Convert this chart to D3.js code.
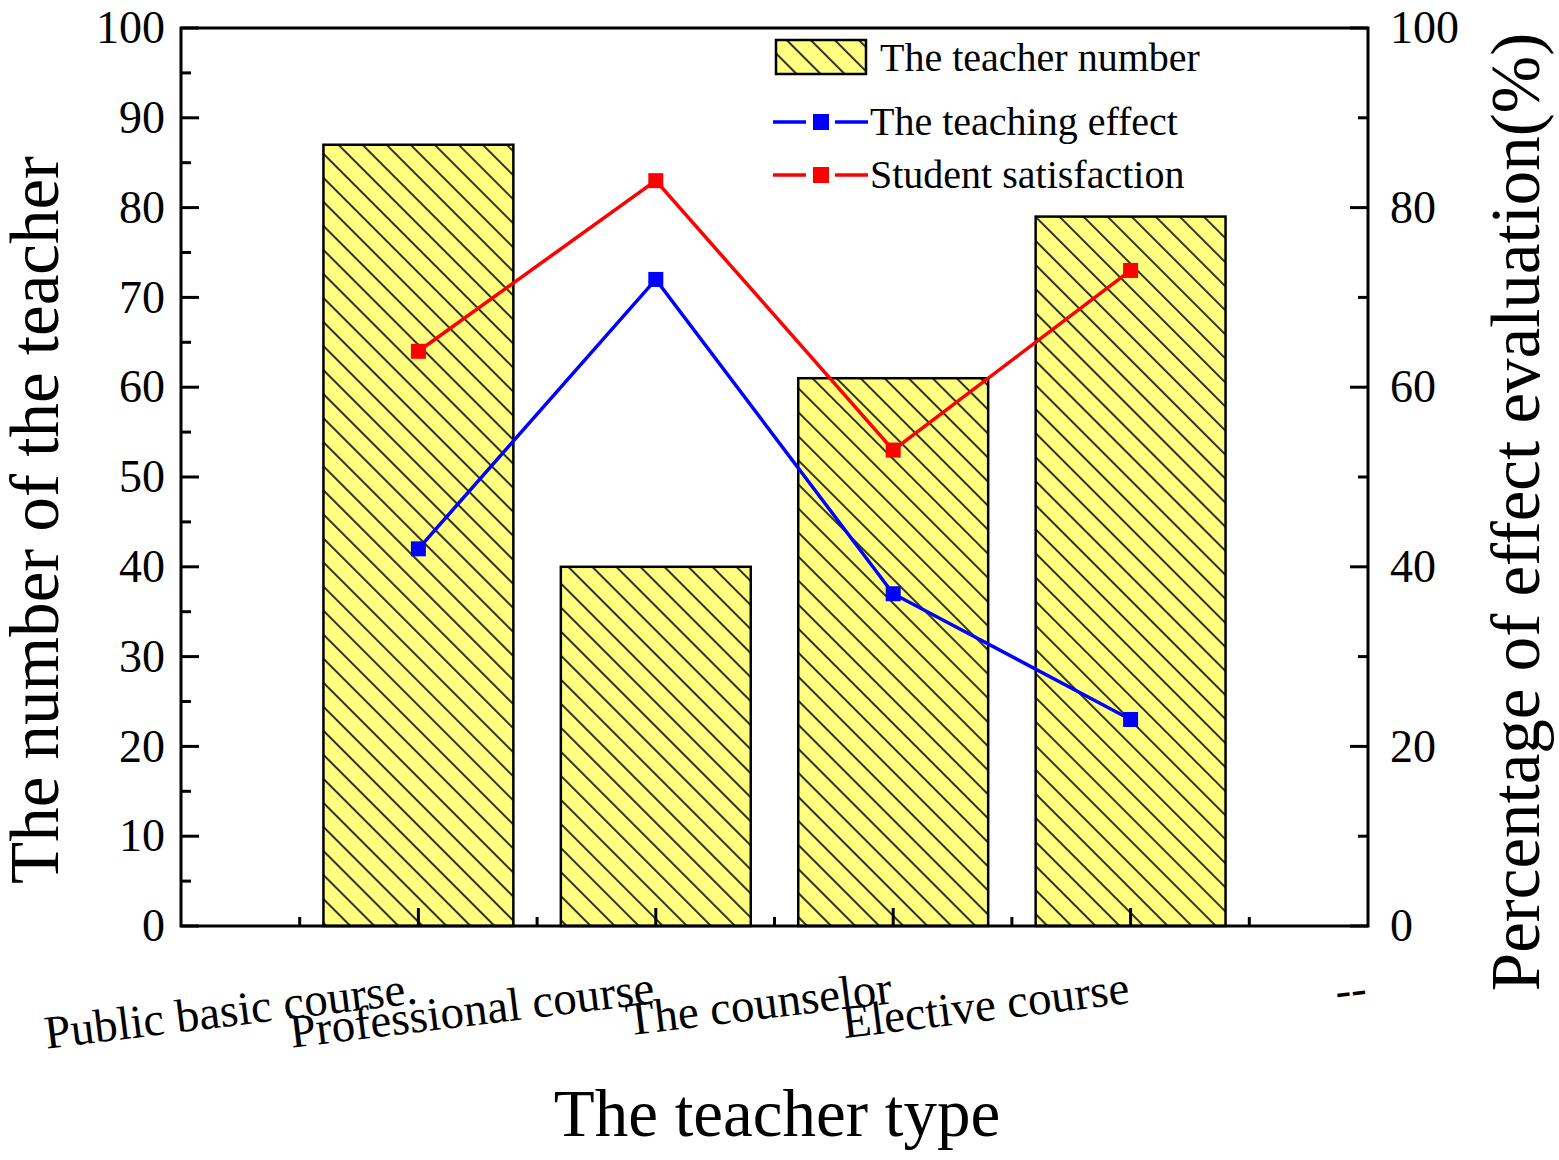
<!DOCTYPE html>
<html>
<head>
<meta charset="utf-8">
<script src="https://cdnjs.cloudflare.com/ajax/libs/d3/7.8.5/d3.min.js"></script>
<style>
  body { margin: 0; background: #fff; }
  text { font-family: "Liberation Serif", "Times New Roman", serif; fill: #000; }
</style>
</head>
<body>
<svg id="chart" width="1559" height="1160"></svg>
<script>
// data
var categories = ["Public basic course.", "Professional course", "The counselor", "Elective course"];
var teacherNumber = [87, 40, 61, 79];
var teachingEffect = [42, 72, 37, 23];
var studentSatisfaction = [64, 83, 53, 73];
var leftTicks = [0, 10, 20, 30, 40, 50, 60, 70, 80, 90, 100];
var rightTicks = [0, 20, 40, 60, 80, 100];

var svg = d3.select("#chart");
var plotL = 181, plotR = 1368, plotT = 28, plotB = 926;

var x = d3.scaleLinear().domain([0, 5]).range([plotL, plotR]);
var yL = d3.scaleLinear().domain([0, 100]).range([plotB, plotT]);
var yR = d3.scaleLinear().domain([0, 100]).range([plotB, plotT]);

// hatch pattern
var defs = svg.append("defs");
var pat = defs.append("pattern")
    .attr("id", "hatch")
    .attr("patternUnits", "userSpaceOnUse")
    .attr("width", 17).attr("height", 17)
    .attr("patternTransform", "rotate(-45)");
pat.append("rect").attr("width", 17).attr("height", 17).attr("fill", "#ffff80");
pat.append("line").attr("x1", 1).attr("y1", 0).attr("x2", 1).attr("y2", 17)
    .attr("stroke", "#000").attr("stroke-width", 1.6);

// bars
var barW = (x(1) - x(0)) * 0.8;
svg.append("g").selectAll("rect")
    .data(teacherNumber)
    .enter().append("rect")
    .attr("x", function(d, i) { return x(i + 1) - barW / 2; })
    .attr("y", function(d) { return yL(d); })
    .attr("width", barW)
    .attr("height", function(d) { return plotB - yL(d); })
    .attr("fill", "url(#hatch)")
    .attr("stroke", "#000")
    .attr("stroke-width", 2.5);

var ax = svg.append("g");
// left ticks, inward
ax.selectAll(null).data(d3.range(5, 100, 10).concat(leftTicks)).enter().append("line")
    .attr("x1", plotL).attr("x2", function(d) { return plotL + (d % 10 === 0 ? 18 : 10); })
    .attr("y1", function(d) { return yL(d); }).attr("y2", function(d) { return yL(d); })
    .attr("stroke", "#000").attr("stroke-width", 3);
// right ticks
ax.selectAll(null).data(d3.range(10, 100, 20).concat(rightTicks)).enter().append("line")
    .attr("x1", plotR).attr("x2", function(d) { return plotR - (d % 20 === 0 ? 18 : 10); })
    .attr("y1", function(d) { return yR(d); }).attr("y2", function(d) { return yR(d); })
    .attr("stroke", "#000").attr("stroke-width", 3);
// bottom ticks
ax.selectAll(null).data([0.5, 1.5, 2.5, 3.5, 4.5, 1, 2, 3, 4]).enter().append("line")
    .attr("x1", function(d) { return x(d); }).attr("x2", function(d) { return x(d); })
    .attr("y1", plotB).attr("y2", function(d) { return plotB - (d % 1 === 0 ? 18 : 9); })
    .attr("stroke", "#000").attr("stroke-width", 3);
// frame
ax.append("rect").attr("x", plotL).attr("y", plotT)
    .attr("width", plotR - plotL).attr("height", plotB - plotT)
    .attr("fill", "none").attr("stroke", "#000").attr("stroke-width", 3);

// tick labels
ax.selectAll(null).data(leftTicks).enter().append("text")
    .attr("x", plotL - 16).attr("y", function(d) { return yL(d); })
    .attr("dy", "0.33em").attr("text-anchor", "end")
    .style("font-size", "46px").text(function(d) { return d; });
ax.selectAll(null).data(rightTicks).enter().append("text")
    .attr("x", plotR + 22).attr("y", function(d) { return yR(d); })
    .attr("dy", "0.33em").attr("text-anchor", "start")
    .style("font-size", "46px").text(function(d) { return d; });
ax.selectAll(null).data(categories.concat(["--"])).enter().append("text")
    .attr("text-anchor", "end")
    .attr("transform", function(d, i) {
        return "translate(" + x(i + 1) + "," + 1003 + ") rotate(-7)";
    })
    .style("font-size", "47px").text(function(d) { return d; });

// axis titles
svg.append("text").attr("transform", "translate(58," + 520 + ") rotate(-90)")
    .attr("text-anchor", "middle").style("font-size", "69px")
    .text("The number of the teacher");
svg.append("text").attr("transform", "translate(1539," + 512 + ") rotate(-90)")
    .attr("text-anchor", "middle").style("font-size", "69px")
    .text("Percentage of effect evaluation(%)");
svg.append("text").attr("x", 777).attr("y", 1136)
    .attr("text-anchor", "middle").style("font-size", "67px")
    .text("The teacher type");

// lines
var series = [
    { name: "The teaching effect", values: teachingEffect, color: "#0000ff" },
    { name: "Student satisfaction", values: studentSatisfaction, color: "#ff0000" }
];
var line = d3.line()
    .x(function(d, i) { return x(i + 1); })
    .y(function(d) { return yR(d); });
series.forEach(function(s) {
    svg.append("path").datum(s.values)
        .attr("d", line).attr("fill", "none")
        .attr("stroke", s.color).attr("stroke-width", 3.5);
    svg.append("g").selectAll("rect").data(s.values).enter().append("rect")
        .attr("x", function(d, i) { return x(i + 1) - 7.5; })
        .attr("y", function(d) { return yR(d) - 7.5; })
        .attr("width", 15).attr("height", 15)
        .attr("fill", s.color);
});

// legend
var lg = svg.append("g");
lg.append("rect").attr("x", 776).attr("y", 40).attr("width", 90).attr("height", 34)
    .attr("fill", "url(#hatch)").attr("stroke", "#000").attr("stroke-width", 2.5);
lg.append("text").attr("x", 880).attr("y", 71).style("font-size", "40px")
    .text("The teacher number");
series.forEach(function(s, i) {
    var yy = 122 + i * 53;
    lg.append("line").attr("x1", 773).attr("x2", 806).attr("y1", yy).attr("y2", yy)
        .attr("stroke", s.color).attr("stroke-width", 3.5);
    lg.append("line").attr("x1", 835).attr("x2", 868).attr("y1", yy).attr("y2", yy)
        .attr("stroke", s.color).attr("stroke-width", 3.5);
    lg.append("rect").attr("x", 813).attr("y", yy - 8).attr("width", 16).attr("height", 16)
        .attr("fill", s.color);
    lg.append("text").attr("x", 870).attr("y", yy + 13).style("font-size", "40px")
        .text(s.name);
});
</script>
</body>
</html>
